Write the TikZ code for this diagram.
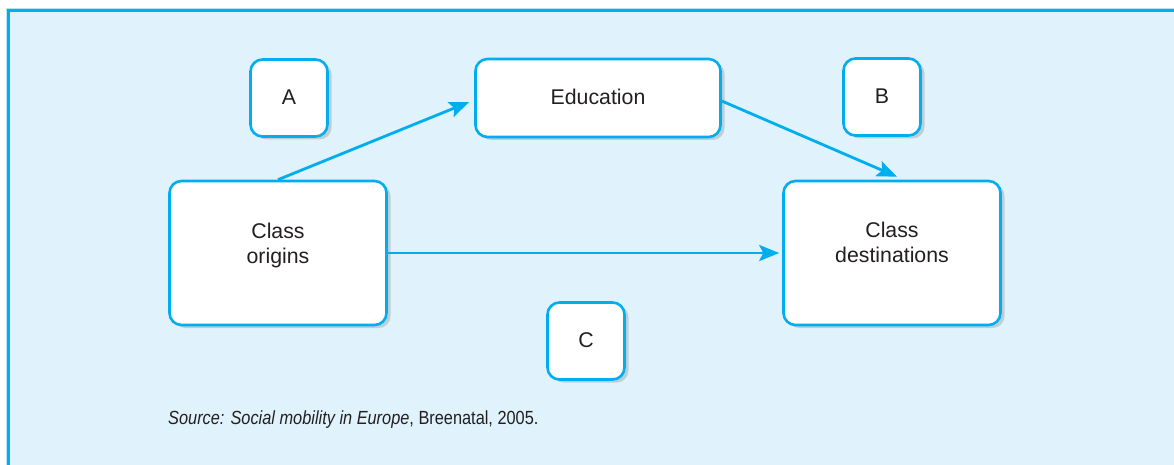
\documentclass[tikz,border=0pt]{standalone}
\usepackage{fontspec}
\setmainfont{Liberation Sans}
\newfontfamily\narrowfont[FakeStretch=0.86]{Liberation Sans}
\usetikzlibrary{arrows.meta,shadows}
\definecolor{mobcyan}{HTML}{00AEEF}
\definecolor{mobback}{HTML}{E0F2FC}
\definecolor{mobedge}{HTML}{B5E4F8}
\definecolor{mobtext}{HTML}{231F20}

\begin{document}
\begin{tikzpicture}[x=1pt, y=-1pt,
    box/.style={draw=mobcyan, line width=2.6pt, fill=white, rounded corners=12pt,
        drop shadow={shadow xshift=4pt, shadow yshift=-3pt, opacity=0.22, fill=black!70},
        font=\fontsize{21.3}{25}\selectfont, text=mobtext, align=center},
    smallbox/.style={box, minimum width=77pt, minimum height=77pt},
    bigbox/.style={box, minimum width=217pt, minimum height=144pt},
    boxtext/.style={font=\fontsize{21.3}{25}\selectfont, text=mobtext, align=center},
    link/.style={draw=mobcyan, line width=2.8pt, -{Stealth[length=20pt, width=16pt, inset=4pt]}}]

    % Frame and background
    \useasboundingbox (0,0) rectangle (1174,465);
    \fill[mobback] (6,9) rectangle (1174,465);
    \draw[mobedge, line width=1pt] (6,465) -- (6,8.5) -- (1174,8.5);
    \draw[mobcyan, line width=2.6pt] (8.3,465) -- (8.3,10.6) -- (1174,10.6);

    % The boxes
    \node[smallbox] (a) at (289,98) {\raisebox{1pt}{A}};
    \node[box, minimum width=245pt, minimum height=78pt] (edu) at (598,98) {\raisebox{3pt}{Education}};
    \node[smallbox] (b) at (882,97) {\raisebox{2pt}{B}};
    \node[bigbox, label={[boxtext, yshift=8pt]center:Class\\origins}] (orig) at (278,253) {};
    \node[bigbox, label={[boxtext, yshift=11pt]center:Class\\destinations}] (dest) at (892,253) {};
    \node[smallbox] (c) at (586,341) {\raisebox{1pt}{C}};

    % The arrows between them
    \draw[link] (orig.north) -- ([xshift=-5pt, yshift=-4pt]edu.west);
    \draw[link] ([yshift=-3pt]edu.east) -- ([xshift=5pt, yshift=3pt]dest.north);
    \draw[link] (orig.east) -- ([xshift=-3pt]dest.west);

    % Source line
    \node[anchor=base west, inner sep=0pt, text=mobtext, font=\narrowfont\fontsize{19}{22}\selectfont] (src) at (168,424)
        {\textit{Source: Social mobility in Europe}, Breenatal, 2005.};

\end{tikzpicture}
\end{document}
